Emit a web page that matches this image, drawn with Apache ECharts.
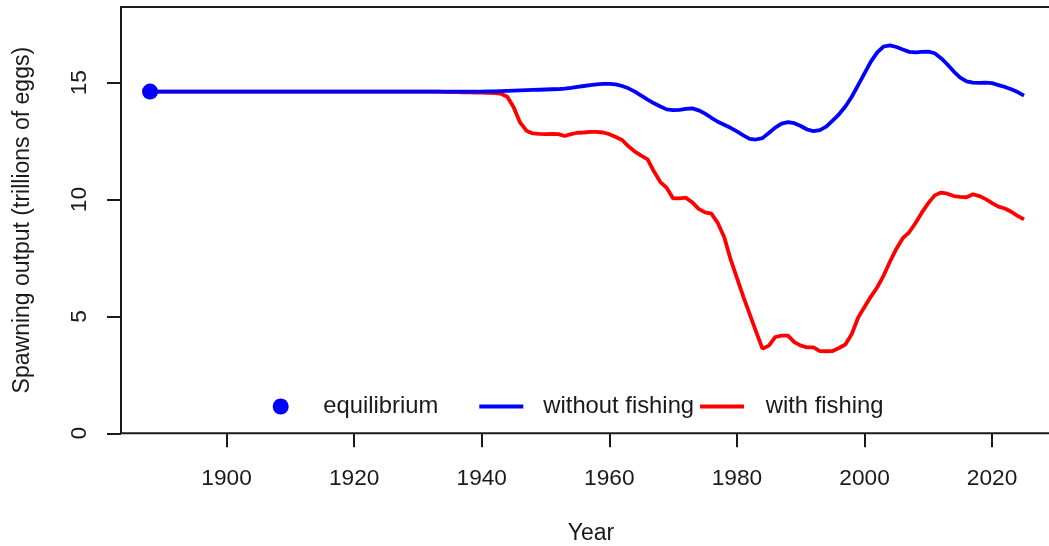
<!DOCTYPE html>
<html>
<head>
<meta charset="utf-8">
<script src="https://cdn.jsdelivr.net/npm/echarts@6/dist/echarts.min.js"></script>
<style>
  html, body { margin: 0; padding: 0; background: #ffffff; }
  #chart { width: 1049px; height: 546px; }
</style>
</head>
<body>
<div id="chart"></div>
<script>
// Spawning output trajectory, annual values 1888-2025 (trillions of eggs)
const startYear = 1888;
const endYear = 2025;

const equilibriumYear = 1888;
const equilibriumValue = 14.62;

// Without fishing: 1888-1940 flat at equilibrium, then 1941-2025
const withoutFishing = [
  14.62, 14.62, 14.62, 14.62, 14.62, 14.62, 14.62, 14.62, 14.62, 14.62, // 1888-1897
  14.62, 14.62, 14.62, 14.62, 14.62, 14.62, 14.62, 14.62, 14.62, 14.62, // 1898-1907
  14.62, 14.62, 14.62, 14.62, 14.62, 14.62, 14.62, 14.62, 14.62, 14.62, // 1908-1917
  14.62, 14.62, 14.62, 14.62, 14.62, 14.62, 14.62, 14.62, 14.62, 14.62, // 1918-1927
  14.62, 14.62, 14.62, 14.62, 14.62, 14.62, 14.62, 14.62, 14.62, 14.62, // 1928-1937
  14.62, 14.62, 14.62,                                                   // 1938-1940
  14.63, 14.63, 14.64, 14.65, 14.66, 14.67, 14.68, 14.69, 14.70, 14.71, // 1941-1950
  14.72, 14.73, 14.75, 14.78, 14.82, 14.86, 14.90, 14.93, 14.95, 14.95, // 1951-1960
  14.93, 14.86, 14.76, 14.62, 14.45, 14.28, 14.12, 13.98, 13.86, 13.83, // 1961-1970
  13.84, 13.88, 13.90, 13.82, 13.68, 13.50, 13.33, 13.20, 13.07, 12.92, // 1971-1980
  12.75, 12.60, 12.57, 12.63, 12.85, 13.08, 13.25, 13.31, 13.27, 13.15, // 1981-1990
  13.00, 12.93, 12.97, 13.12, 13.38, 13.65, 13.98, 14.40, 14.90, 15.40, // 1991-2000
  15.90, 16.30, 16.55, 16.60, 16.53, 16.42, 16.32, 16.30, 16.32, 16.33, // 2001-2010
  16.26, 16.05, 15.78, 15.48, 15.22, 15.06, 15.00, 14.99, 15.00, 14.98, // 2011-2020
  14.90, 14.82, 14.72, 14.60, 14.45                                      // 2021-2025
];

// With fishing: 1888-1933 at equilibrium, then 1934-2025
const withFishing = [
  14.62, 14.62, 14.62, 14.62, 14.62, 14.62, 14.62, 14.62, 14.62, 14.62, // 1888-1897
  14.62, 14.62, 14.62, 14.62, 14.62, 14.62, 14.62, 14.62, 14.62, 14.62, // 1898-1907
  14.62, 14.62, 14.62, 14.62, 14.62, 14.62, 14.62, 14.62, 14.62, 14.62, // 1908-1917
  14.62, 14.62, 14.62, 14.62, 14.62, 14.62, 14.62, 14.62, 14.62, 14.62, // 1918-1927
  14.62, 14.62, 14.62, 14.62, 14.62, 14.62,                             // 1928-1933
  14.61, 14.60, 14.60, 14.59, 14.59, 14.58, 14.58,                      // 1934-1940
  14.57, 14.56, 14.53, 14.40, 13.95, 13.30, 12.95, 12.83, 12.81, 12.80, // 1941-1950
  12.81, 12.80, 12.72, 12.80, 12.86, 12.87, 12.90, 12.90, 12.87, 12.80, // 1951-1960
  12.68, 12.55, 12.28, 12.05, 11.88, 11.72, 11.20, 10.75, 10.50, 10.05, // 1961-1970
  10.05, 10.08, 9.88, 9.60, 9.45, 9.40, 9.00, 8.40, 7.45, 6.65,         // 1971-1980
  5.85, 5.10, 4.35, 3.62, 3.75, 4.12, 4.18, 4.18, 3.90, 3.75,           // 1981-1990
  3.68, 3.68, 3.52, 3.51, 3.52, 3.65, 3.80, 4.25, 4.95, 5.40,           // 1991-2000
  5.85, 6.25, 6.75, 7.35, 7.90, 8.35, 8.60, 9.00, 9.45, 9.85,           // 2001-2010
  10.18, 10.30, 10.25, 10.15, 10.12, 10.10, 10.23, 10.15, 10.02, 9.85,  // 2011-2020
  9.70, 9.62, 9.48, 9.30, 9.15                                          // 2021-2025
];

const xTicks = [1900, 1920, 1940, 1960, 1980, 2000, 2020];
const yTicks = [0, 5, 10, 15];

const seriesNames = ['equilibrium', 'without fishing', 'with fishing'];

function pairs(values) {
  const out = [];
  for (let i = 0; i < values.length; i++) {
    out.push([startYear + i, values[i]]);
  }
  return out;
}

const FONT = "'Liberation Sans', Arial, sans-serif";
const INK = '#1a1a1a';
const BLUE = '#0000ff';
const RED = '#ff0000';

const chart = echarts.init(document.getElementById('chart'), null, { renderer: 'canvas' });

function legendBox(name, left, icon, w, h, textPad) {
  return {
    data: [name],
    left: left,
    top: 392.5,
    orient: 'horizontal',
    padding: 0,
    icon: icon,
    itemWidth: w,
    itemHeight: h,
    selectedMode: false,
    textStyle: {
      fontFamily: FONT,
      fontSize: 23.8,
      color: INK,
      lineHeight: 28,
      padding: [0, 0, 0, textPad]
    }
  };
}

chart.setOption({
  animation: false,
  backgroundColor: '#ffffff',
  grid: {
    left: 121,
    top: 7,
    width: 940,
    height: 426.3,
    outerBoundsMode: 'none',
    containLabel: false,
    show: true,
    borderColor: INK,
    borderWidth: 2,
    backgroundColor: 'transparent'
  },
  legend: [
    legendBox(seriesNames[0], 272.7, 'circle', 16, 16, 29.6),
    legendBox(seriesNames[1], 479.3, 'rect', 44, 3.8, 15),
    legendBox(seriesNames[2], 700, 'rect', 44, 3.8, 16.7)
  ],
  xAxis: {
    type: 'value',
    min: 1883.45,
    max: 2030.8,
    name: 'Year',
    nameLocation: 'middle',
    nameGap: 89,
    nameTextStyle: { fontFamily: FONT, fontSize: 23, color: INK },
    axisLine: { show: false },
    splitLine: { show: false },
    axisTick: {
      show: true,
      customValues: xTicks,
      length: 14,
      lineStyle: { color: INK, width: 2 }
    },
    axisLabel: {
      customValues: xTicks,
      fontFamily: FONT,
      fontSize: 22.7,
      color: INK,
      margin: 34,
      formatter: function (v) { return String(v); }
    }
  },
  yAxis: {
    type: 'value',
    min: 0,
    max: 18.24,
    name: 'Spawning output (trillions of eggs)',
    nameLocation: 'middle',
    nameGap: 86.5,
    nameTextStyle: { fontFamily: FONT, fontSize: 23, color: INK },
    axisLine: { show: false },
    splitLine: { show: false },
    axisTick: {
      show: true,
      customValues: yTicks,
      length: 14,
      lineStyle: { color: INK, width: 2 }
    },
    axisLabel: {
      customValues: yTicks,
      rotate: 90,
      fontFamily: FONT,
      fontSize: 22.7,
      color: INK,
      margin: 30
    }
  },
  series: [
    {
      name: seriesNames[2],
      type: 'line',
      data: pairs(withFishing),
      showSymbol: false,
      symbol: 'none',
      color: RED,
      lineStyle: { color: RED, width: 3.8 },
      z: 2
    },
    {
      name: seriesNames[1],
      type: 'line',
      data: pairs(withoutFishing),
      showSymbol: false,
      symbol: 'none',
      color: BLUE,
      lineStyle: { color: BLUE, width: 3.8 },
      z: 3
    },
    {
      name: seriesNames[0],
      type: 'scatter',
      data: [[equilibriumYear, equilibriumValue]],
      symbol: 'circle',
      symbolSize: 16,
      itemStyle: { color: BLUE, opacity: 1 },
      z: 4
    }
  ]
});
</script>
</body>
</html>
